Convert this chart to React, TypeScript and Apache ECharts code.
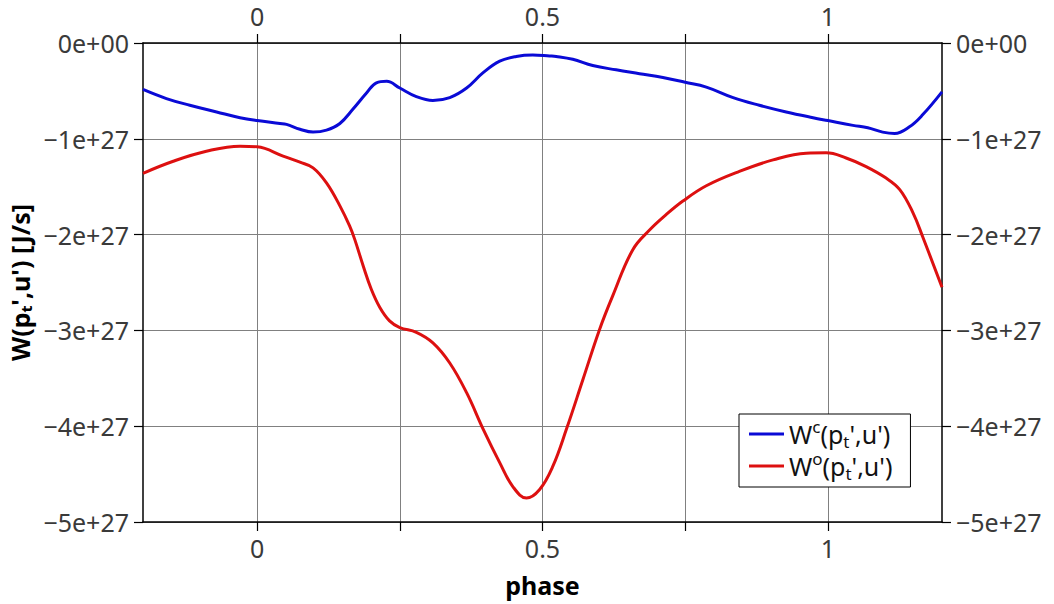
import React, { useEffect, useRef } from "react";
import * as echarts from "echarts";

// values in units of 1e27 J/s
const SCALE = 1e27;

const phaseC = [
  -0.2, -0.159, -0.118, -0.071, -0.03, 0, 0.04, 0.0515, 0.075, 0.098, 0.1215, 0.145, 0.168, 0.192,
  0.209, 0.227, 0.25, 0.279, 0.308, 0.3375, 0.367, 0.396, 0.425, 0.454, 0.483, 0.5125, 0.524,
  0.553, 0.588, 0.629, 0.67, 0.711, 0.75, 0.787, 0.834, 0.88, 0.927, 0.974, 1.0, 1.044, 1.07,
  1.096, 1.117, 1.143, 1.166, 1.2,
];
const valuesC = [
  -0.485, -0.58, -0.65, -0.72, -0.78, -0.81, -0.84, -0.85, -0.9, -0.93, -0.91, -0.84, -0.69, -0.52,
  -0.415, -0.4, -0.47, -0.56, -0.6, -0.57, -0.47, -0.31, -0.19, -0.14, -0.125, -0.135, -0.14,
  -0.17, -0.235, -0.28, -0.32, -0.36, -0.41, -0.46, -0.57, -0.65, -0.72, -0.78, -0.81, -0.86, -0.885,
  -0.93, -0.945, -0.875, -0.75, -0.51,
];

const phaseO = [
  -0.2, -0.147, -0.089, -0.03, 0, 0.0455, 0.075, 0.098, 0.1215, 0.145, 0.162, 0.171, 0.186, 0.2,
  0.215, 0.232, 0.25, 0.279, 0.308, 0.3375, 0.367, 0.396, 0.425, 0.448, 0.472, 0.495, 0.518, 0.542,
  0.571, 0.6, 0.623, 0.658, 0.688, 0.717, 0.746, 0.787, 0.845, 0.904, 0.962, 0.997, 1.032, 1.067,
  1.102, 1.126, 1.149, 1.166, 1.2,
];
const valuesO = [
  -1.36, -1.234, -1.13, -1.077, -1.084, -1.18, -1.244, -1.303, -1.46, -1.7, -1.91, -2.05, -2.33, -2.57,
  -2.76, -2.9, -2.97, -3.02, -3.13, -3.34, -3.65, -4.03, -4.38, -4.63, -4.75, -4.66, -4.42, -4.03,
  -3.51, -2.99, -2.64, -2.16, -1.95, -1.79, -1.65, -1.49, -1.34, -1.22, -1.15, -1.146, -1.2, -1.29,
  -1.41, -1.53, -1.77, -2.02, -2.55,
];

const seriesNames = ["Wc(pt',u')", "Wo(pt',u')"];
const seriesSup = ["c", "o"];
const tickValues = [0, 0.25, 0.5, 0.75, 1];
const labelValues = [0, 0.5, 1];

const FONT = "Noto Sans";
const LABEL_COLOR = "#3a3a3a";
const LABEL_SIZE = 25;

function yFmt(v: number): string {
  const n = Math.round(v / SCALE);
  if (n === 0) return "0e+00";
  return (n < 0 ? "\u2212" : "") + Math.abs(n) + "e+27";
}

function xFmt(v: number): string {
  return String(Math.round(v * 100) / 100);
}

export default function App() {
  const ref = useRef<HTMLDivElement>(null);
  useEffect(() => {
    if (!ref.current) return;
    const chart = echarts.init(ref.current, undefined, { renderer: "svg" });
    const dataC = phaseC.map((p, i) => [p, valuesC[i] * SCALE]);
    const dataO = phaseO.map((p, i) => [p, valuesO[i] * SCALE]);
    const xBase = {
      type: "value" as const,
      min: -0.2,
      max: 1.2,
      axisLine: { show: true, onZero: false, lineStyle: { color: "#000", width: 1.5 } },
      axisTick: { show: true, inside: false, length: 9, customValues: tickValues, lineStyle: { color: "#000", width: 1.2 } },
    };
    const xLabel = {
      customValues: labelValues,
      formatter: xFmt,
      fontFamily: FONT,
      fontSize: LABEL_SIZE,
      color: LABEL_COLOR,
    };
    const yBase = {
      type: "value" as const,
      min: -5 * SCALE,
      max: 0,
      interval: SCALE,
      axisLine: { show: true, onZero: false, lineStyle: { color: "#000", width: 1.5 } },
      axisTick: { show: true, inside: false, length: 9, lineStyle: { color: "#000", width: 1.2 } },
      axisLabel: {
        formatter: yFmt,
        fontFamily: FONT,
        fontSize: LABEL_SIZE,
        color: LABEL_COLOR,
        margin: 14,
        showMinLabel: true,
        showMaxLabel: true,
      },
    };
    chart.setOption({
      animation: false,
      backgroundColor: "#fff",
      grid: { left: 143, right: 112, top: 43, bottom: 82, containLabel: false, outerBoundsMode: "none" },
      legend: {
        data: seriesNames,
        orient: "vertical",
        left: 739,
        top: 414,
        padding: [4, 18, 5, 10],
        itemGap: 0,
        itemWidth: 35,
        itemHeight: 3,
        icon: "rect",
        backgroundColor: "#fff",
        borderColor: "#000",
        borderWidth: 1,
        borderRadius: 0,
        formatter: (name: string) => {
          const i = seriesNames.indexOf(name);
          return "{w|W}{sup|" + seriesSup[i] + "}{w|(p}{sub|t}{w|',u')}";
        },
        textStyle: {
          fontFamily: FONT,
          fontSize: 25,
          color: "#111",
          rich: {
            w: { fontFamily: FONT, fontSize: 25, color: "#111", lineHeight: 32 },
            sup: { fontFamily: FONT, fontSize: 17, color: "#111", lineHeight: 18, verticalAlign: "top" },
            sub: { fontFamily: FONT, fontSize: 17, color: "#111", lineHeight: 16, verticalAlign: "bottom" },
          },
        },
      },
      xAxis: [
        {
          ...xBase,
          position: "bottom",
          axisLabel: { ...xLabel, margin: 13 },
          name: "phase",
          nameLocation: "middle",
          nameGap: 50,
          nameTextStyle: { fontFamily: FONT, fontSize: 25, fontWeight: "bold", color: "#000" },
          splitLine: { show: true, lineStyle: { color: "#808080", width: 1 } },
        },
        { ...xBase, position: "top", axisLabel: { ...xLabel, margin: 15 }, splitLine: { show: false } },
      ],
      yAxis: [
        {
          ...yBase,
          position: "left",
          name: "W(pₜ',u') [J/s]",
          nameLocation: "middle",
          nameRotate: 90,
          nameGap: 109,
          nameTextStyle: { fontFamily: FONT, fontSize: 25, fontWeight: "bold", color: "#000" },
          splitLine: { show: true, lineStyle: { color: "#808080", width: 1 } },
        },
        { ...yBase, position: "right", splitLine: { show: false } },
      ],
      series: [
        {
          name: seriesNames[0],
          type: "line",
          data: dataC,
          smooth: 0.4,
          symbol: "none",
          lineStyle: { color: "#0a0ad6", width: 3 },
          itemStyle: { color: "#0a0ad6" },
          z: 3,
        },
        {
          name: seriesNames[1],
          type: "line",
          data: dataO,
          smooth: 0.4,
          symbol: "none",
          lineStyle: { color: "#dd1010", width: 3 },
          itemStyle: { color: "#dd1010" },
          z: 3,
        },
      ],
    } as any);
    return () => chart.dispose();
  }, []);
  return (
    <div
      ref={ref}
      style={{ position: "fixed", left: 0, top: 0, width: 1054, height: 604, background: "#fff" }}
    />
  );
}
